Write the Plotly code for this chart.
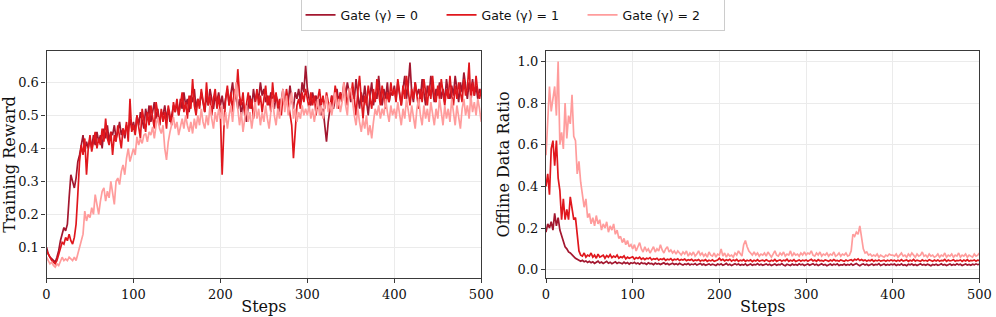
import plotly.graph_objects as go

# ---------------- data ----------------
STEPS = list(range(0, 501, 2))
SERIES_NAMES = ["Gate (γ) = 0", "Gate (γ) = 1", "Gate (γ) = 2"]
COLORS = ["#a3172f", "#e0171d", "#ff9c9c"]

reward_g0 = [
    0.10, 0.08, 0.07, 0.065, 0.06, 0.055, 0.07, 0.09, 0.12, 0.14, 0.16, 0.15, 0.17, 0.25, 0.32, 0.30, 0.28, 0.31, 0.36, 0.38, 0.41, 0.44, 0.39, 0.42, 0.40,
    0.43, 0.40, 0.44, 0.41, 0.45, 0.42, 0.44, 0.40, 0.46, 0.43, 0.47, 0.42, 0.45, 0.44, 0.47, 0.43, 0.45, 0.48, 0.44, 0.46, 0.43, 0.47, 0.45, 0.49, 0.46,
    0.48, 0.45, 0.50, 0.47, 0.51, 0.48, 0.46, 0.52, 0.49, 0.53, 0.48, 0.51, 0.54, 0.49, 0.52, 0.47, 0.51, 0.50, 0.53, 0.49, 0.52, 0.48, 0.50, 0.53, 0.51,
    0.54, 0.50, 0.55, 0.52, 0.57, 0.53, 0.55, 0.51, 0.56, 0.54, 0.58, 0.52, 0.55, 0.53, 0.57, 0.54, 0.51, 0.56, 0.53, 0.58, 0.55, 0.52, 0.56, 0.54, 0.57,
    0.53, 0.56, 0.52, 0.55, 0.58, 0.53, 0.56, 0.60, 0.54, 0.57, 0.52, 0.55, 0.50, 0.54, 0.51, 0.48, 0.53, 0.56, 0.52, 0.58, 0.54, 0.57, 0.55, 0.60, 0.56,
    0.58, 0.54, 0.56, 0.53, 0.57, 0.55, 0.52, 0.56, 0.54, 0.51, 0.55, 0.58, 0.53, 0.56, 0.54, 0.59, 0.55, 0.52, 0.57, 0.55, 0.58, 0.54, 0.60, 0.57, 0.65,
    0.58, 0.55, 0.53, 0.57, 0.54, 0.56, 0.52, 0.55, 0.50, 0.52, 0.47, 0.42, 0.48, 0.53, 0.56, 0.52, 0.55, 0.58, 0.54, 0.57, 0.55, 0.59, 0.56, 0.60, 0.57,
    0.54, 0.58, 0.55, 0.61, 0.56, 0.52, 0.57, 0.54, 0.59, 0.55, 0.50, 0.56, 0.60, 0.53, 0.57, 0.55, 0.62, 0.56, 0.53, 0.58, 0.55, 0.60, 0.54, 0.57, 0.56,
    0.59, 0.55, 0.60, 0.56, 0.53, 0.58, 0.62, 0.55, 0.59, 0.66, 0.57, 0.54, 0.60, 0.56, 0.58, 0.55, 0.61, 0.57, 0.53, 0.59, 0.56, 0.62, 0.57, 0.54, 0.58,
    0.56, 0.60, 0.55, 0.58, 0.54, 0.61, 0.57, 0.55, 0.59, 0.56, 0.62, 0.58, 0.54, 0.60, 0.57, 0.63, 0.58, 0.55, 0.60, 0.57, 0.61, 0.56, 0.59, 0.55, 0.58, 0.56,
]

reward_g1 = [
    0.09, 0.08, 0.07, 0.06, 0.055, 0.05, 0.06, 0.08, 0.10, 0.115, 0.11, 0.13, 0.12, 0.14, 0.12, 0.11, 0.13, 0.17, 0.26, 0.36, 0.41, 0.38, 0.43, 0.32, 0.40,
    0.44, 0.39, 0.42, 0.45, 0.40, 0.43, 0.41, 0.46, 0.42, 0.49, 0.43, 0.41, 0.45, 0.38, 0.44, 0.42, 0.47, 0.43, 0.40, 0.46, 0.44, 0.48, 0.42, 0.55, 0.45,
    0.47, 0.44, 0.50, 0.46, 0.43, 0.52, 0.48, 0.45, 0.51, 0.47, 0.53, 0.49, 0.46, 0.54, 0.50, 0.47, 0.52, 0.48, 0.51, 0.46, 0.53, 0.50, 0.47, 0.54, 0.51,
    0.55, 0.50, 0.53, 0.57, 0.51, 0.54, 0.49, 0.56, 0.52, 0.61, 0.53, 0.50, 0.55, 0.52, 0.58, 0.54, 0.51, 0.60, 0.53, 0.56, 0.50, 0.55, 0.58, 0.52, 0.56,
    0.50, 0.32, 0.46, 0.55, 0.59, 0.53, 0.57, 0.51, 0.58, 0.55, 0.64, 0.56, 0.53, 0.57, 0.50, 0.54, 0.57, 0.52, 0.55, 0.49, 0.54, 0.58, 0.53, 0.56, 0.51,
    0.55, 0.59, 0.53, 0.56, 0.51, 0.60, 0.54, 0.57, 0.52, 0.55, 0.50, 0.56, 0.53, 0.58, 0.54, 0.51, 0.47, 0.37, 0.46, 0.53, 0.55, 0.52, 0.57, 0.54, 0.58,
    0.55, 0.52, 0.57, 0.53, 0.56, 0.50, 0.55, 0.58, 0.53, 0.56, 0.52, 0.57, 0.54, 0.51, 0.56, 0.53, 0.59, 0.55, 0.52, 0.57, 0.54, 0.60, 0.56, 0.53, 0.58,
    0.55, 0.60, 0.54, 0.50, 0.57, 0.62, 0.55, 0.49, 0.56, 0.53, 0.59, 0.55, 0.52, 0.58, 0.54, 0.61, 0.56, 0.53, 0.59, 0.55, 0.52, 0.57, 0.54, 0.60, 0.56,
    0.58, 0.54, 0.61, 0.56, 0.53, 0.59, 0.55, 0.62, 0.57, 0.53, 0.58, 0.55, 0.60, 0.56, 0.52, 0.58, 0.54, 0.61, 0.57, 0.53, 0.59, 0.55, 0.62, 0.56, 0.54,
    0.59, 0.55, 0.61, 0.57, 0.53, 0.58, 0.55, 0.62, 0.56, 0.53, 0.59, 0.55, 0.60, 0.57, 0.54, 0.61, 0.56, 0.58, 0.66, 0.54, 0.60, 0.56, 0.62, 0.57, 0.55, 0.58,
]

reward_g2 = [
    0.07, 0.06, 0.05, 0.055, 0.045, 0.04, 0.05, 0.045, 0.06, 0.07, 0.06, 0.065, 0.06, 0.07, 0.065, 0.06, 0.07, 0.06, 0.08, 0.10, 0.12, 0.14, 0.21, 0.18, 0.20,
    0.19, 0.22, 0.20, 0.26, 0.23, 0.20, 0.24, 0.27, 0.28, 0.24, 0.27, 0.25, 0.30, 0.26, 0.23, 0.30, 0.31, 0.29, 0.33, 0.35, 0.32, 0.37, 0.40, 0.36, 0.385,
    0.40, 0.38, 0.435, 0.41, 0.43, 0.415, 0.44, 0.445, 0.42, 0.45, 0.44, 0.465, 0.43, 0.47, 0.495, 0.46, 0.445, 0.47, 0.40, 0.365, 0.42, 0.45, 0.47, 0.495, 0.46,
    0.48, 0.44, 0.47, 0.49, 0.46, 0.50, 0.47, 0.45, 0.48, 0.445, 0.49, 0.46, 0.50, 0.47, 0.52, 0.48, 0.46, 0.50, 0.47, 0.53, 0.49, 0.46, 0.51, 0.48, 0.52,
    0.49, 0.53, 0.47, 0.51, 0.46, 0.50, 0.53, 0.48, 0.55, 0.60, 0.52, 0.47, 0.51, 0.45, 0.49, 0.53, 0.48, 0.51, 0.46, 0.50, 0.54, 0.49, 0.52, 0.47, 0.51,
    0.48, 0.53, 0.49, 0.46, 0.51, 0.55, 0.50, 0.47, 0.52, 0.49, 0.54, 0.58, 0.51, 0.56, 0.50, 0.53, 0.57, 0.49, 0.52, 0.48, 0.51, 0.49, 0.53, 0.50, 0.52,
    0.50, 0.53, 0.49, 0.52, 0.48, 0.51, 0.55, 0.50, 0.53, 0.49, 0.52, 0.56, 0.51, 0.54, 0.50, 0.53, 0.57, 0.52, 0.55, 0.51, 0.54, 0.60, 0.53, 0.50, 0.58,
    0.58, 0.53, 0.50, 0.47, 0.52, 0.48, 0.45, 0.49, 0.46, 0.50, 0.44, 0.47, 0.43, 0.48, 0.52, 0.50, 0.53, 0.49, 0.52, 0.50, 0.55, 0.51, 0.48, 0.53, 0.50,
    0.52, 0.49, 0.54, 0.50, 0.47, 0.52, 0.49, 0.55, 0.51, 0.48, 0.53, 0.50, 0.46, 0.52, 0.55, 0.50, 0.47, 0.53, 0.49, 0.52, 0.48, 0.54, 0.50, 0.47, 0.52,
    0.49, 0.55, 0.50, 0.47, 0.53, 0.49, 0.52, 0.48, 0.55, 0.51, 0.47, 0.53, 0.50, 0.46, 0.52, 0.55, 0.50, 0.53, 0.49, 0.56, 0.51, 0.54, 0.50, 0.55, 0.52, 0.48,
]

ratio_g0 = [
    0.18, 0.22, 0.20, 0.23, 0.19, 0.27, 0.21, 0.25, 0.19, 0.16, 0.13, 0.11, 0.10, 0.085, 0.08, 0.07, 0.06, 0.055, 0.05, 0.045, 0.04, 0.045, 0.038, 0.042, 0.035,
    0.04, 0.033, 0.038, 0.03, 0.036, 0.041, 0.032, 0.037, 0.03, 0.035, 0.04, 0.031, 0.036, 0.029, 0.034, 0.038, 0.03, 0.035, 0.032, 0.028, 0.036, 0.03, 0.034, 0.027, 0.033,
    0.03, 0.035, 0.028, 0.032, 0.026, 0.034, 0.029, 0.031, 0.025, 0.033, 0.028, 0.03, 0.024, 0.032, 0.027, 0.03, 0.025, 0.029, 0.033, 0.026, 0.03, 0.024, 0.028, 0.031, 0.025,
    0.029, 0.024, 0.031, 0.026, 0.022, 0.028, 0.025, 0.03, 0.023, 0.027, 0.024, 0.029, 0.022, 0.026, 0.03, 0.023, 0.027, 0.021, 0.025, 0.028, 0.022, 0.026, 0.024, 0.02, 0.027,
    0.023, 0.028, 0.021, 0.025, 0.03, 0.022, 0.026, 0.02, 0.024, 0.029, 0.023, 0.027, 0.021, 0.025, 0.022, 0.028, 0.02, 0.024, 0.027, 0.021, 0.025, 0.023, 0.029, 0.022, 0.026,
    0.021, 0.025, 0.028, 0.022, 0.026, 0.02, 0.024, 0.027, 0.021, 0.025, 0.023, 0.029, 0.022, 0.019, 0.026, 0.024, 0.02, 0.027, 0.022, 0.025, 0.021, 0.028, 0.023, 0.026, 0.02,
    0.024, 0.027, 0.021, 0.025, 0.029, 0.022, 0.026, 0.02, 0.024, 0.028, 0.022, 0.025, 0.019, 0.024, 0.027, 0.021, 0.026, 0.023, 0.028, 0.02, 0.024, 0.022, 0.027, 0.021, 0.025,
    0.022, 0.028, 0.021, 0.026, 0.03, 0.023, 0.019, 0.025, 0.028, 0.022, 0.026, 0.02, 0.024, 0.027, 0.021, 0.025, 0.023, 0.029, 0.02, 0.024, 0.027, 0.021, 0.025, 0.022, 0.026,
    0.023, 0.027, 0.02, 0.025, 0.022, 0.028, 0.021, 0.024, 0.019, 0.026, 0.023, 0.027, 0.021, 0.025, 0.02, 0.024, 0.028, 0.022, 0.025, 0.021, 0.026, 0.023, 0.019, 0.025, 0.022,
    0.026, 0.021, 0.024, 0.028, 0.022, 0.025, 0.02, 0.024, 0.027, 0.021, 0.025, 0.022, 0.028, 0.023, 0.026, 0.02, 0.024, 0.027, 0.022, 0.025, 0.021, 0.026, 0.023, 0.028, 0.024, 0.026,
]

ratio_g1 = [
    0.40, 0.46, 0.36, 0.58, 0.62, 0.50, 0.62, 0.44, 0.38, 0.24, 0.34, 0.24, 0.29, 0.24, 0.35, 0.28, 0.24, 0.25, 0.16, 0.09, 0.07, 0.065, 0.08, 0.06, 0.07,
    0.065, 0.08, 0.06, 0.07, 0.055, 0.075, 0.06, 0.065, 0.07, 0.055, 0.068, 0.06, 0.072, 0.058, 0.065, 0.06, 0.07, 0.055, 0.062, 0.058, 0.066, 0.052, 0.06, 0.055, 0.058,
    0.062, 0.05, 0.058, 0.054, 0.06, 0.05, 0.056, 0.048, 0.055, 0.052, 0.058, 0.047, 0.053, 0.05, 0.055, 0.046, 0.052, 0.049, 0.054, 0.045, 0.05, 0.047, 0.053, 0.044, 0.05,
    0.047, 0.052, 0.044, 0.049, 0.046, 0.051, 0.043, 0.048, 0.045, 0.05, 0.042, 0.047, 0.044, 0.049, 0.041, 0.046, 0.043, 0.048, 0.04, 0.045, 0.042, 0.047, 0.04, 0.044, 0.046,
    0.055, 0.045, 0.05, 0.042, 0.048, 0.044, 0.05, 0.041, 0.047, 0.043, 0.049, 0.04, 0.046, 0.043, 0.048, 0.04, 0.045, 0.042, 0.047, 0.039, 0.045, 0.042, 0.048, 0.04, 0.044,
    0.046, 0.041, 0.048, 0.043, 0.039, 0.045, 0.042, 0.049, 0.04, 0.044, 0.047, 0.041, 0.046, 0.043, 0.05, 0.04, 0.045, 0.042, 0.048, 0.039, 0.044, 0.047, 0.041, 0.046, 0.043,
    0.047, 0.041, 0.045, 0.05, 0.042, 0.046, 0.04, 0.048, 0.043, 0.045, 0.041, 0.047, 0.044, 0.04, 0.046, 0.042, 0.049, 0.043, 0.045, 0.041, 0.047, 0.043, 0.04, 0.046, 0.042,
    0.045, 0.048, 0.042, 0.05, 0.046, 0.052, 0.044, 0.049, 0.043, 0.047, 0.041, 0.046, 0.043, 0.048, 0.04, 0.045, 0.042, 0.047, 0.041, 0.044, 0.046, 0.04, 0.045, 0.042, 0.047,
    0.043, 0.046, 0.04, 0.045, 0.042, 0.048, 0.041, 0.044, 0.047, 0.04, 0.045, 0.042, 0.049, 0.041, 0.046, 0.043, 0.04, 0.047, 0.042, 0.045, 0.041, 0.048, 0.043, 0.04, 0.046,
    0.042, 0.047, 0.041, 0.045, 0.043, 0.049, 0.04, 0.046, 0.042, 0.044, 0.048, 0.041, 0.045, 0.043, 0.047, 0.04, 0.046, 0.042, 0.048, 0.041, 0.045, 0.043, 0.047, 0.041, 0.046, 0.044,
]

ratio_g2 = [
    0.55, 0.70, 0.88, 0.76, 0.82, 0.88, 0.74, 1.0, 0.60, 0.66, 0.58, 0.80, 0.63, 0.74, 0.70, 0.84, 0.64, 0.62, 0.46, 0.52, 0.42, 0.36, 0.30, 0.34, 0.25,
    0.27, 0.22, 0.25, 0.21, 0.26, 0.22, 0.24, 0.19, 0.22, 0.20, 0.23, 0.18, 0.21, 0.19, 0.22, 0.17, 0.19, 0.15, 0.16, 0.13, 0.15, 0.12, 0.14, 0.11, 0.12,
    0.10, 0.12, 0.09, 0.11, 0.13, 0.10, 0.085, 0.11, 0.09, 0.10, 0.08, 0.095, 0.11, 0.085, 0.10, 0.09, 0.12, 0.095, 0.08, 0.10, 0.11, 0.085, 0.095, 0.08, 0.09,
    0.075, 0.09, 0.08, 0.07, 0.085, 0.075, 0.09, 0.065, 0.08, 0.07, 0.085, 0.065, 0.075, 0.09, 0.07, 0.08, 0.065, 0.075, 0.06, 0.085, 0.07, 0.065, 0.08, 0.06, 0.075,
    0.07, 0.10, 0.065, 0.08, 0.06, 0.075, 0.065, 0.07, 0.06, 0.08, 0.07, 0.09, 0.075, 0.065, 0.12, 0.14, 0.11, 0.09, 0.08, 0.07, 0.085, 0.07, 0.08, 0.065, 0.075,
    0.07, 0.08, 0.065, 0.085, 0.07, 0.06, 0.075, 0.09, 0.07, 0.065, 0.08, 0.07, 0.085, 0.065, 0.075, 0.07, 0.09, 0.065, 0.08, 0.07, 0.075, 0.065, 0.08, 0.07, 0.085,
    0.07, 0.08, 0.075, 0.09, 0.07, 0.065, 0.08, 0.07, 0.085, 0.065, 0.075, 0.07, 0.08, 0.065, 0.075, 0.07, 0.085, 0.065, 0.07, 0.08, 0.065, 0.075, 0.07, 0.08, 0.065,
    0.07, 0.09, 0.17, 0.16, 0.18, 0.17, 0.21, 0.15, 0.10, 0.08, 0.085, 0.07, 0.075, 0.065, 0.07, 0.065, 0.075, 0.06, 0.07, 0.065, 0.06, 0.07, 0.065, 0.075, 0.07,
    0.07, 0.065, 0.075, 0.06, 0.07, 0.08, 0.065, 0.07, 0.06, 0.075, 0.065, 0.08, 0.07, 0.06, 0.075, 0.065, 0.07, 0.085, 0.065, 0.07, 0.06, 0.075, 0.065, 0.07, 0.06,
    0.065, 0.075, 0.06, 0.07, 0.065, 0.08, 0.06, 0.07, 0.065, 0.075, 0.06, 0.07, 0.065, 0.08, 0.06, 0.07, 0.065, 0.075, 0.06, 0.07, 0.065, 0.06, 0.075, 0.065, 0.07, 0.08,
]

REWARD = [reward_g0, reward_g1, reward_g2]
RATIO = [ratio_g0, ratio_g1, ratio_g2]

X_TICKS = [0, 100, 200, 300, 400, 500]
Y1_TICKS = [0.1, 0.2, 0.3, 0.4, 0.5, 0.6]
Y2_TICKS = [0.0, 0.2, 0.4, 0.6, 0.8, 1.0]

# ---------------- figure ----------------
fig = go.Figure()
for i in range(3):
    y = REWARD[i]
    fig.add_trace(go.Scatter(x=STEPS[:len(y)], y=y, mode="lines", name=SERIES_NAMES[i],
                             line=dict(color=COLORS[i], width=1.7), xaxis="x", yaxis="y",
                             legendgroup=str(i)))
for i in range(3):
    y = RATIO[i]
    fig.add_trace(go.Scatter(x=STEPS[:len(y)], y=y, mode="lines", name=SERIES_NAMES[i],
                             line=dict(color=COLORS[i], width=1.7), xaxis="x2", yaxis="y2",
                             legendgroup=str(i), showlegend=False))

SERIF = "DejaVu Serif"
tickfont = dict(family=SERIF, size=13, color="#111")
titlefont = dict(family=SERIF, size=16, color="#111")

axis_common = dict(showline=True, mirror=True, linecolor="#3a3a3a", linewidth=1.2,
                   ticks="outside", ticklen=4, tickwidth=1, tickcolor="#3a3a3a",
                   showgrid=True, gridcolor="#ebebeb", gridwidth=1, zeroline=False,
                   tickfont=tickfont, automargin=False)

fig.update_layout(
    width=996, height=317,
    margin=dict(l=0, r=0, t=0, b=0, autoexpand=False),
    paper_bgcolor="white", plot_bgcolor="white",
    xaxis=dict(domain=[0.0467, 0.4832], range=[0, 500], tickvals=X_TICKS, anchor="y",
               title=dict(text="Steps", font=titlefont, standoff=0), **axis_common),
    yaxis=dict(domain=[0.123, 0.839], range=[0.007, 0.695], tickvals=Y1_TICKS, tickformat=".1f",
               anchor="x", title=dict(text="Training Reward", font=titlefont, standoff=4), **axis_common),
    xaxis2=dict(domain=[0.5482, 0.9834], range=[0, 500], tickvals=X_TICKS, anchor="y2",
                title=dict(text="Steps", font=titlefont, standoff=0), **axis_common),
    yaxis2=dict(domain=[0.123, 0.839], range=[-0.04, 1.05], tickvals=Y2_TICKS, tickformat=".1f",
                anchor="x2", title=dict(text="Offline Data Ratio", font=titlefont, standoff=4), **axis_common),
    legend=dict(orientation="h", x=0.5146, xanchor="center", y=0.952, yanchor="middle",
                bordercolor="#cccccc", borderwidth=1, bgcolor="white",
                font=dict(family="DejaVu Sans", size=12.5, color="#111"),
                entrywidth=96, entrywidthmode="pixels", tracegroupgap=0),
    showlegend=True,
)

fig.write_html("out.html", config={"displayModeBar": False},
               post_script="document.body.style.margin='0';document.body.style.padding='0';")
